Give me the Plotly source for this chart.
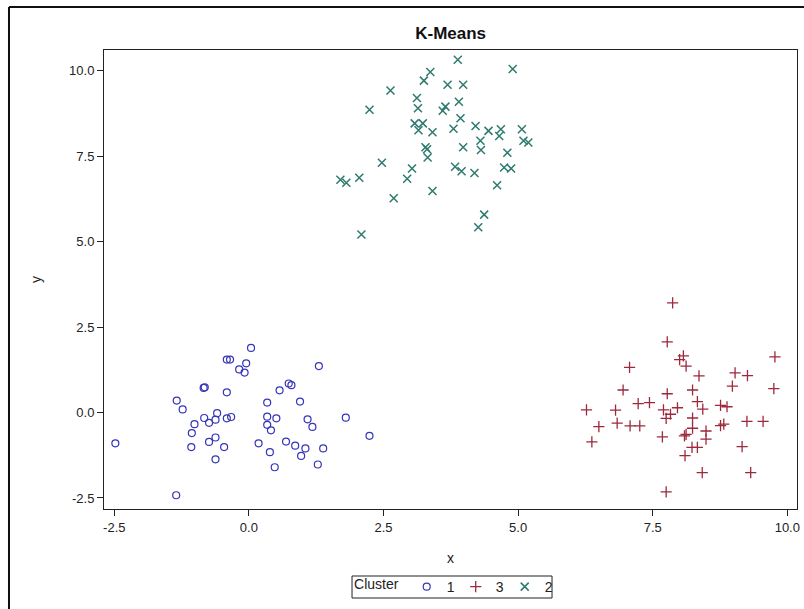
import plotly.graph_objects as go

# Cluster 1 (circles)
x1 = [0.04, -0.41, -0.35, -0.05, -0.18, -0.08, 1.30, -0.84, -0.82, -0.41,
      0.74, 0.79, 0.57, -1.34, -1.23, 0.34, 0.95, -0.59, -0.83, -0.62,
      -0.74, -1.01, -0.41, -0.33, 0.34, 0.51, 0.34, 0.41, 1.09, 1.18,
      -1.06, -0.62, -0.74, -1.07, -0.46, 0.18, 0.69, 0.86, 1.05, 1.38,
      0.39, 0.97, -0.62, 0.48, 1.28, -2.48, -1.35, 1.80, 2.24]
y1 = [1.89, 1.55, 1.55, 1.44, 1.26, 1.17, 1.36, 0.72, 0.74, 0.59,
      0.85, 0.80, 0.65, 0.35, 0.09, 0.29, 0.32, -0.02, -0.16, -0.21,
      -0.30, -0.34, -0.17, -0.13, -0.12, -0.17, -0.36, -0.52, -0.20, -0.42,
      -0.60, -0.73, -0.86, -1.01, -1.01, -0.90, -0.85, -0.97, -1.05, -1.05,
      -1.16, -1.27, -1.37, -1.60, -1.52, -0.90, -2.42, -0.15, -0.68]

# Cluster 3 (plus signs)
x3 = [7.87, 7.77, 9.77, 8.07, 8.00, 8.12, 7.07, 9.03, 9.26, 8.36,
      8.98, 9.75, 6.95, 8.24, 7.77, 7.23, 7.44, 8.33, 8.43, 8.76,
      8.88, 7.96, 7.70, 7.83, 7.75, 6.27, 6.81, 8.24, 6.50, 6.84,
      7.08, 7.26, 8.24, 8.76, 8.82, 9.25, 9.55, 8.49, 8.12, 8.09,
      7.68, 8.49, 6.37, 8.23, 8.33, 9.16, 8.10, 8.42, 9.32, 7.75]
y3 = [3.21, 2.07, 1.63, 1.66, 1.55, 1.36, 1.32, 1.16, 1.08, 1.07,
      0.77, 0.70, 0.66, 0.66, 0.55, 0.26, 0.29, 0.32, 0.10, 0.21,
      0.17, 0.14, 0.08, -0.05, -0.17, 0.08, 0.07, -0.16, -0.41, -0.31,
      -0.39, -0.39, -0.46, -0.38, -0.34, -0.26, -0.26, -0.54, -0.64, -0.68,
      -0.71, -0.78, -0.86, -1.02, -1.02, -1.00, -1.26, -1.76, -1.76, -2.32]

# Cluster 2 (x marks)
x2 = [3.88, 4.90, 3.37, 3.25, 2.63, 3.69, 3.98, 3.12, 2.24, 3.14,
      3.60, 3.65, 3.90, 3.93, 3.08, 3.23, 3.15, 3.41, 3.80, 4.21,
      4.45, 4.68, 4.65, 5.07, 5.10, 5.19, 4.30, 4.31, 3.28, 3.31,
      3.32, 3.98, 4.80, 2.47, 3.03, 2.94, 3.83, 3.95, 4.19, 4.74,
      4.87, 1.70, 1.81, 2.05, 4.61, 3.41, 2.69, 4.37, 4.26, 2.09]
y2 = [10.32, 10.05, 9.96, 9.71, 9.42, 9.59, 9.59, 9.20, 8.86, 8.90,
      8.83, 8.95, 9.09, 8.61, 8.46, 8.46, 8.26, 8.20, 8.30, 8.38,
      8.24, 8.29, 8.09, 8.29, 7.95, 7.90, 7.95, 7.68, 7.76, 7.70,
      7.46, 7.76, 7.60, 7.31, 7.14, 6.84, 7.19, 7.06, 7.01, 7.17,
      7.14, 6.81, 6.72, 6.87, 6.65, 6.48, 6.27, 5.79, 5.42, 5.21]

tick_vals = [-2.5, 0.0, 2.5, 5.0, 7.5, 10.0]
tick_text = ["-2.5", "0.0", "2.5", "5.0", "7.5", "10.0"]

FONT = "Liberation Sans, Arial, sans-serif"
TXT = "#222222"

fig = go.Figure()
fig.add_trace(go.Scatter(
    x=x1, y=y1, mode="markers", name="1",
    marker=dict(symbol="circle-open", size=7, color="#3535b8",
                line=dict(width=1.2, color="#3535b8")),
))
fig.add_trace(go.Scatter(
    x=x3, y=y3, mode="markers", name="3",
    marker=dict(symbol="cross-thin-open", size=8, color="#9c2a3c",
                line=dict(width=1.3, color="#9c2a3c")),
))
fig.add_trace(go.Scatter(
    x=x2, y=y2, mode="markers", name="2",
    marker=dict(symbol="x-thin-open", size=8, color="#2e7a6e",
                line=dict(width=1.5, color="#2e7a6e")),
))

axis_common = dict(
    showgrid=False, zeroline=False, showline=True, linecolor="#222",
    linewidth=1, mirror=True, ticks="outside", ticklen=6, tickwidth=1,
    tickcolor="#222", tickvals=tick_vals, ticktext=tick_text,
    tickfont=dict(family=FONT, size=13, color=TXT),
)

fig.update_layout(
    width=804, height=609,
    margin=dict(l=104, r=7, t=50, b=100, autoexpand=False),
    paper_bgcolor="white", plot_bgcolor="white",
    title=dict(text="<b>K-Means</b>", x=0.5605, xanchor="center",
               y=0.945, yanchor="middle",
               font=dict(family=FONT, size=17, color="#111")),
    xaxis=dict(range=[-2.691, 10.180],
               title=dict(text="x", font=dict(family=FONT, size=14, color=TXT),
                          standoff=19),
               **axis_common),
    yaxis=dict(range=[-2.822, 10.606],
               title=dict(text="y", font=dict(family=FONT, size=14, color=TXT),
                          standoff=24),
               **axis_common),
    legend=dict(
        orientation="h", x=0.3579, xanchor="left", y=-0.17, yanchor="middle",
        title=dict(text="Cluster", side="left",
                   font=dict(family=FONT, size=14, color=TXT)),
        font=dict(family=FONT, size=14, color=TXT),
        borderwidth=0, bgcolor="rgba(0,0,0,0)",
        itemwidth=30, tracegroupgap=0, valign="middle",
        entrywidth=4, entrywidthmode="pixels",
    ),
    showlegend=True,
    shapes=[
        # outer frame line on the top and left edges of the figure
        dict(type="line", xref="paper", yref="paper",
             x0=-0.1371, x1=1.2, y0=1.0937, y1=1.0937,
             line=dict(color="#111", width=2)),
        dict(type="line", xref="paper", yref="paper",
             x0=-0.1371, x1=-0.1371, y0=1.0937, y1=-0.5,
             line=dict(color="#111", width=2)),
        # box around the legend
        dict(type="rect", xref="paper", yref="paper",
             x0=0.3579, x1=0.6465, y0=-0.1939, y1=-0.146,
             line=dict(color="#222", width=1), fillcolor="white",
             layer="below"),
    ],
)

fig.write_html("out.html")
